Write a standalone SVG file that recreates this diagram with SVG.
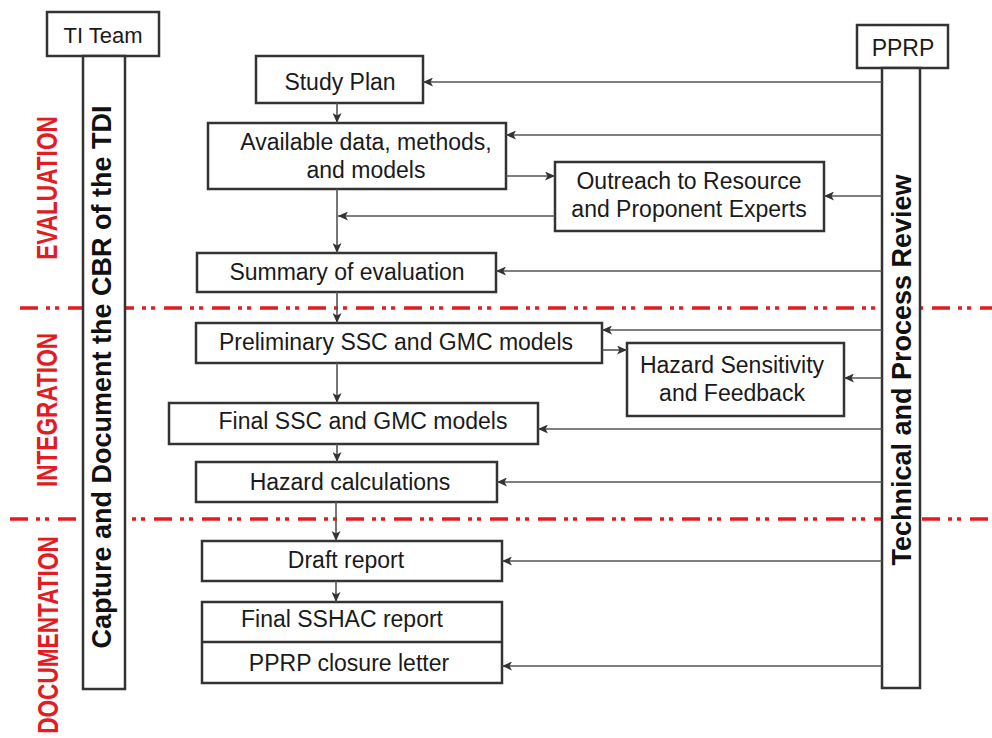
<svg xmlns="http://www.w3.org/2000/svg" width="992" height="738" viewBox="0 0 992 738">
<style>
.box{fill:#fff;stroke:#333;stroke-width:2.5}
.col{fill:#fff;stroke:#333;stroke-width:2.5}
.t{font-family:"Liberation Sans",Arial,sans-serif;font-size:23px;fill:#1a1a1a;text-anchor:middle}
.vt{font-family:"Liberation Sans",Arial,sans-serif;font-size:27px;font-weight:bold;fill:#111;text-anchor:middle}
.rt{font-family:"Liberation Sans",Arial,sans-serif;font-size:29px;font-weight:bold;fill:#e31b23;text-anchor:middle}
.phase{fill:none;stroke:#e31b23;stroke-width:3.5;stroke-dasharray:18 8 4 5 4 9}
.c{fill:none;stroke:#555;stroke-width:1.6;marker-end:url(#ah)}
</style>
<defs>
<marker id="ah" markerUnits="userSpaceOnUse" markerWidth="11" markerHeight="9" refX="10" refY="4.5" orient="auto">
<path d="M0,0 L10,4.5 L0,9 L2.5,4.5 z" fill="#333"/>
</marker>
</defs>
<rect width="992" height="738" fill="#fff"/>
<g id="phase-lines">
<line class="phase" x1="20" y1="308" x2="992" y2="308"/>
<line class="phase" x1="10" y1="519" x2="992" y2="519"/>
</g>
<g id="phase-labels">
<text class="rt" transform="translate(57,188) rotate(-90) scale(0.78,1)">EVALUATION</text>
<text class="rt" transform="translate(57,410) rotate(-90) scale(0.78,1)">INTEGRATION</text>
<text class="rt" transform="translate(58,635) rotate(-90) scale(0.78,1)">DOCUMENTATION</text>
</g>
<g id="ti-team">
<rect class="box" x="47" y="12" width="112" height="44"/>
<text class="t" x="103" y="43" style="font-size:22px">TI Team</text>
<rect class="col" x="83" y="56" width="42" height="633"/>
<text class="vt" transform="translate(111,377) rotate(-90)">Capture and Document the CBR of the TDI</text>
</g>
<g id="pprp">
<rect class="box" x="857" y="25" width="91" height="43"/>
<text class="t" x="903" y="56">PPRP</text>
<rect class="col" x="882" y="68" width="38" height="620"/>
<text class="vt" transform="translate(911,370) rotate(-90)">Technical and Process Review</text>
</g>
<g id="study-plan">
<rect class="box" x="256" y="56" width="167" height="47"/>
<text class="t" x="340" y="90">Study Plan</text>
</g>
<g id="available-data">
<rect class="box" x="208" y="123" width="298" height="66"/>
<text class="t" x="366" y="150">Available data, methods,</text>
<text class="t" x="366" y="178">and models</text>
</g>
<g id="outreach">
<rect class="box" x="555" y="162" width="269" height="69"/>
<text class="t" x="689" y="189">Outreach to Resource</text>
<text class="t" x="689" y="217">and Proponent Experts</text>
</g>
<g id="summary">
<rect class="box" x="197" y="253" width="299" height="39"/>
<text class="t" x="347" y="280">Summary of evaluation</text>
</g>
<g id="preliminary">
<rect class="box" x="196" y="323" width="406" height="40"/>
<text class="t" x="396" y="350">Preliminary SSC and GMC models</text>
</g>
<g id="hazard-sensitivity">
<rect class="box" x="627" y="343" width="217" height="73"/>
<text class="t" x="732" y="373">Hazard Sensitivity</text>
<text class="t" x="732" y="401">and Feedback</text>
</g>
<g id="final-models">
<rect class="box" x="169" y="403" width="369" height="41"/>
<text class="t" x="363" y="429">Final SSC and GMC models</text>
</g>
<g id="hazard-calculations">
<rect class="box" x="196" y="462" width="301" height="40"/>
<text class="t" x="350" y="490">Hazard calculations</text>
</g>
<g id="draft-report">
<rect class="box" x="202" y="541" width="300" height="40"/>
<text class="t" x="346" y="568">Draft report</text>
</g>
<g id="final-report">
<rect class="box" x="202" y="602" width="300" height="81"/>
<line x1="202" y1="642" x2="502" y2="642" stroke="#333" stroke-width="2.5"/>
<text class="t" x="342" y="627">Final SSHAC report</text>
<text class="t" x="349" y="671">PPRP closure letter</text>
</g>
<g id="connectors">
<path class="c" d="M882,82 H423"/>
<path class="c" d="M882,135 H506"/>
<path class="c" d="M506,176 H555"/>
<path class="c" d="M882,196 H824"/>
<path class="c" d="M555,216 H338"/>
<path class="c" d="M337,103 V123"/>
<path class="c" d="M337,189 V253"/>
<path class="c" d="M882,271 H496"/>
<path class="c" d="M337,292 V323"/>
<path class="c" d="M882,330 H602"/>
<path class="c" d="M602,350 H627"/>
<path class="c" d="M882,378 H844"/>
<path class="c" d="M337,363 V403"/>
<path class="c" d="M882,429 H538"/>
<path class="c" d="M337,444 V462"/>
<path class="c" d="M882,482 H497"/>
<path class="c" d="M336,502 V541"/>
<path class="c" d="M882,561 H502"/>
<path class="c" d="M336,581 V602"/>
<path class="c" d="M882,666 H502"/>
</g>
</svg>
